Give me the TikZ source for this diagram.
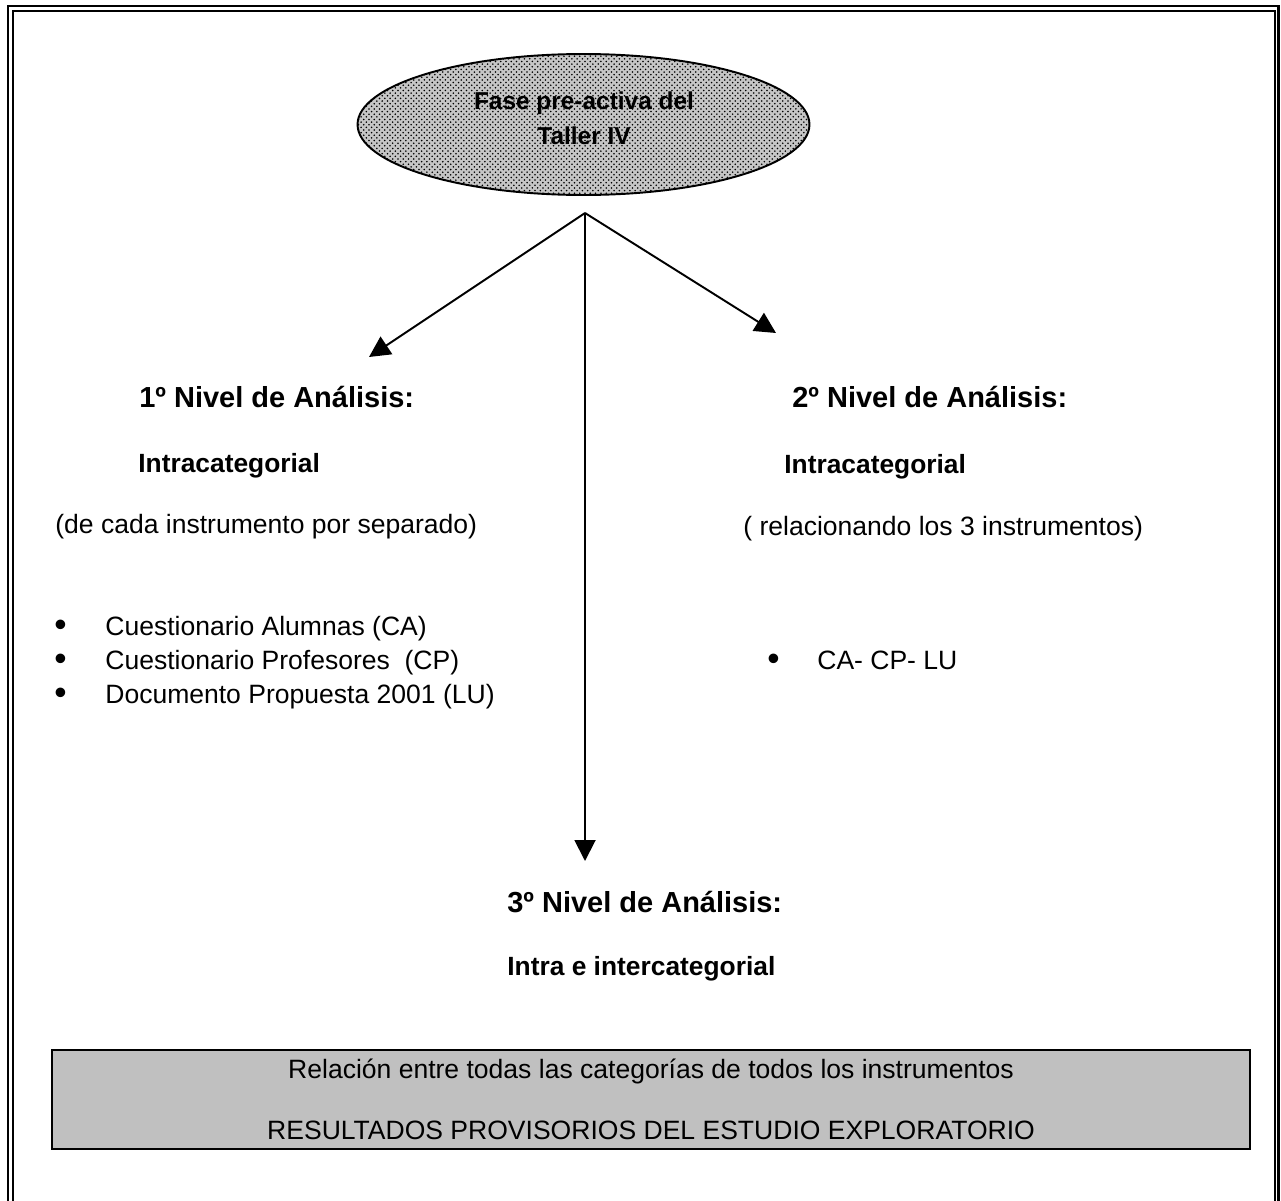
\documentclass[tikz,border=0pt]{standalone}
\usepackage{fontspec}
\setmainfont{Liberation Sans}
\usetikzlibrary{shapes.geometric,patterns,arrows.meta}
\definecolor{boxgray}{HTML}{C0C0C0}

\begin{document}
\begin{tikzpicture}[x=0.02cm,y=-0.02cm,
        txt/.style={anchor=base west,inner sep=0pt,font=\fontsize{15.1}{18}\selectfont},
        bul/.style={anchor=base west,inner sep=0pt,text height=9pt,text depth=0pt,font=\fontsize{20}{20}\selectfont},
        lvl/.style={anchor=base west,inner sep=0pt,font=\fontsize{16.5}{20}\selectfont\bfseries},
        sub/.style={anchor=base west,inner sep=0pt,font=\fontsize{15}{18}\selectfont\bfseries},
        arr/.style={line width=1.1pt,-{Triangle[length=0.42cm,width=0.42cm]}},
        frame/.style={line width=1.2pt}]
        \useasboundingbox (0,0) rectangle (1281,1200);
        % marco doble
        \draw[frame] (8.3,1210) -- (8.3,6) -- (1278.5,6) -- (1278.5,1210);
        \draw[frame] (13,1210) -- (13,11) -- (1275,11) -- (1275,1210);
        % fase
        \node[draw,ellipse,line width=1.1pt,minimum width=9.04cm,minimum height=2.82cm,inner sep=0pt,
            preaction={fill=gray!45},pattern=crosshatch dots,pattern color=black] (fase) at (583.5,124.5) {};
        \node[align=center,inner sep=0pt,font=\fontsize{13.9}{19.8}\selectfont\bfseries] (fasetxt) at (584,118.5) {Fase pre-activa del\\Taller IV};
        \coordinate (fork) at (585,213);
        \coordinate (tipA) at (369,357);
        \coordinate (tipB) at (776,333);
        \coordinate (tipC) at (585,861);
        \draw[arr] (fork) -- (tipA);
        \draw[arr] (fork) -- (tipB);
        \draw[arr] (fork) -- (tipC);
        % 1er nivel
        \node[lvl] (nivA) at (139,407) {1º Nivel de Análisis:};
        \node[sub] (intraA) at (138,472) {Intracategorial};
        \node[txt] (sepA) at (55,533) {(de cada instrumento por separado)};
        \node[bul] (bulA1) at (54,636) {•};
        \node[bul] (bulA2) at (54,670.5) {•};
        \node[bul] (bulA3) at (54,704) {•};
        \node[txt] (itemA1) at (105,635) {Cuestionario Alumnas (CA)};
        \node[txt] (itemA2) at (105,669.5) {Cuestionario Profesores~ (CP)};
        \node[txt] (itemA3) at (105,703) {Documento Propuesta 2001 (LU)};
        % 2do nivel
        \node[lvl] (nivB) at (792,407) {2º Nivel de Análisis:};
        \node[sub] (intraB) at (784,473) {Intracategorial};
        \node[txt] (sepB) at (743,535) {( relacionando los 3 instrumentos)};
        \node[bul] (bulB) at (767,670) {•};
        \node[txt] (itemB) at (817,669) {CA- CP- LU};
        % 3er nivel
        \node[lvl] (nivC) at (507,912) {3º Nivel de Análisis:};
        \node[sub] (intraC) at (507,975) {Intra e intercategorial};
        % resultados
        \node[draw,line width=1.2pt,fill=boxgray,minimum width=23.96cm,minimum height=1.98cm,inner sep=0pt] (res) at (651,1099.5) {};
        \node[txt,anchor=base] (rel) at (651,1078) {Relación entre todas las categorías de todos los instrumentos};
        \node[txt,anchor=base] (resul) at (651,1139) {RESULTADOS PROVISORIOS DEL ESTUDIO EXPLORATORIO};
    \end{tikzpicture}
\end{document}
